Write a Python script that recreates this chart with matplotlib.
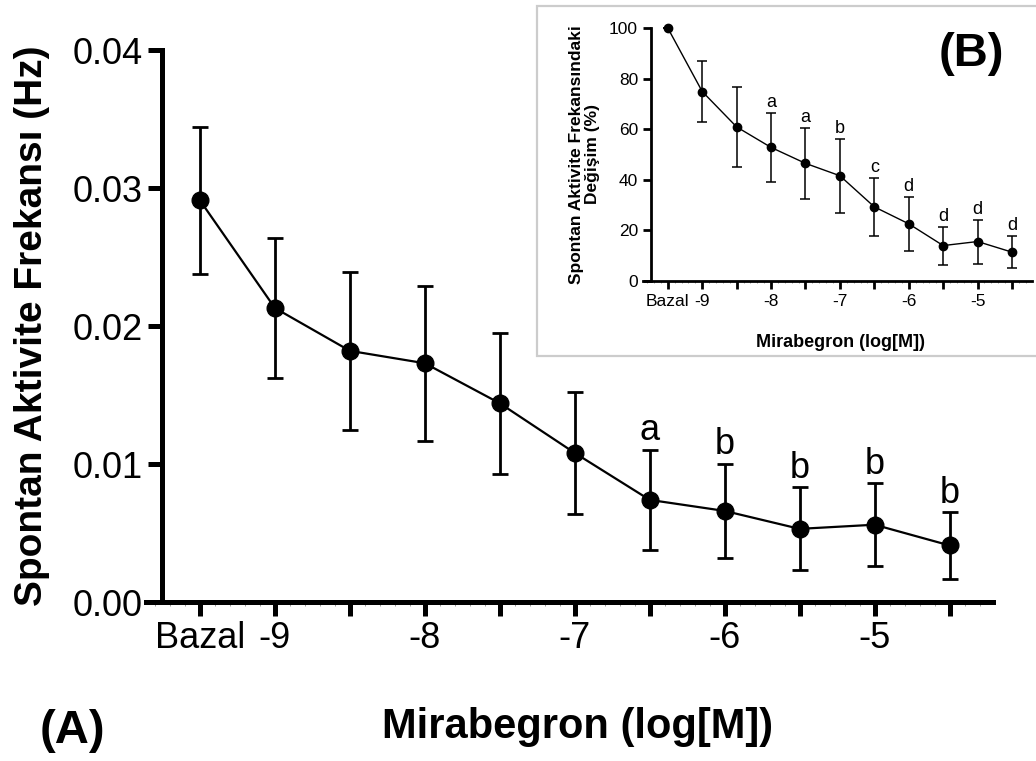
import matplotlib
matplotlib.use("Agg")
import matplotlib.pyplot as plt
from matplotlib.patches import Rectangle
import numpy as np

plt.rcParams['font.family'] = ['Liberation Sans', 'DejaVu Sans']

# ---- data ----
# x positions on log[M] axis; "Bazal" is drawn half a decade left of -9
x_pos = [-9.5, -9.0, -8.5, -8.0, -7.5, -7.0, -6.5, -6.0, -5.5, -5.0, -4.5]
tick_labels = ["Bazal", "-9", "", "-8", "", "-7", "", "-6", "", "-5", ""]

# Panel A: spontaneous activity frequency (Hz)
freq_mean = [0.0291, 0.0213, 0.0182, 0.0173, 0.0144, 0.0108, 0.0074, 0.0066, 0.0053, 0.0056, 0.0041]
freq_err = [0.0053, 0.0051, 0.0057, 0.0056, 0.0051, 0.0044, 0.0036, 0.0034, 0.0030, 0.0030, 0.0024]
freq_sig = ["", "", "", "", "", "", "a", "b", "b", "b", "b"]

# Panel B: change in spontaneous activity frequency (%)
pct_mean = [100.0, 74.9, 60.9, 52.8, 46.5, 41.6, 29.3, 22.6, 14.0, 15.6, 11.4]
pct_err = [0.0, 12.2, 15.8, 13.8, 14.0, 14.6, 11.4, 10.6, 7.5, 8.7, 6.4]
pct_sig = ["", "", "", "a", "a", "b", "c", "d", "d", "d", "d"]

W, H = 1036, 761
fig = plt.figure(figsize=(W / 100, H / 100), dpi=100)


def style_axes(ax, lw, tick_len, minor_len):
    for s in ["top", "right"]:
        ax.spines[s].set_visible(False)
    ax.spines["left"].set_position(("data", -9.75))
    ax.spines["left"].set_linewidth(lw)
    ax.spines["bottom"].set_linewidth(lw)
    ax.spines["left"].set_capstyle("projecting")
    ax.spines["bottom"].set_capstyle("projecting")
    ax.tick_params(axis="both", which="major", direction="out", length=tick_len,
                   width=lw, color="black")
    ax.set_xticks(x_pos)
    ax.set_xticklabels(tick_labels)
    ax.set_xticks(np.arange(-9.8, -4.25, 0.1), minor=True)
    ax.tick_params(axis="x", which="minor", direction="out", length=minor_len,
                   width=0.6, color="#888888")
    ax.set_xlim(-9.86, -4.21)


# ---- Panel A ----
axA = fig.add_axes([146 / W, 1 - 602 / H, (993 - 146) / W, (602 - 50) / H])
axA.errorbar(x_pos, freq_mean, yerr=freq_err, color="black", lw=1.6,
             marker="o", ms=12, elinewidth=2.0, capsize=6, capthick=2.0,
             clip_on=False, zorder=3)
style_axes(axA, 3.6, 10, 3)
axA.set_ylim(0, 0.04)
axA.set_yticks([0.0, 0.01, 0.02, 0.03, 0.04])
axA.set_yticklabels(["0.00", "0.01", "0.02", "0.03", "0.04"])
axA.tick_params(axis="both", which="major", labelsize=26, pad=4)
for x, m, e, s in zip(x_pos, freq_mean, freq_err, freq_sig):
    if s:
        axA.annotate(s, (x, m + e), xytext=(0, 7), textcoords="offset points",
                     ha="center", va="baseline", fontsize=26)
axA.set_ylabel("Spontan Aktivite Frekansı (Hz)", fontsize=28, fontweight="bold")
axA.yaxis.set_label_coords((50 - 146) / 847, 0.5)
fig.text(578 / W, 1 - 727 / H, "Mirabegron (log[M])", fontsize=30,
         fontweight="bold", ha="center", va="center")
fig.text(72 / W, 1 - 731 / H, "(A)", fontsize=34, fontweight="bold",
         ha="center", va="center")

# ---- Panel B (inset) ----
box = Rectangle((537 / W, 1 - 356 / H), (W + 5 - 537) / W, (356 - 6) / H,
                transform=fig.transFigure, facecolor="white",
                edgecolor="#cccccc", lw=1.6, zorder=1)
fig.patches.append(box)

axB = fig.add_axes([643 / W, 1 - 281 / H, (1032 - 643) / W, (281 - 28) / H])
axB.set_zorder(2)
axB.patch.set_alpha(0)
axB.errorbar(x_pos, pct_mean, yerr=pct_err, color="black", lw=1.0,
             marker="o", ms=6, elinewidth=1.1, capsize=3.5, capthick=1.1,
             clip_on=False, zorder=3)
style_axes(axB, 2.0, 6, 1.5)
axB.set_ylim(0, 100)
axB.set_yticks([0, 20, 40, 60, 80, 100])
axB.tick_params(axis="both", which="major", labelsize=12.5, pad=3)
for x, m, e, s in zip(x_pos, pct_mean, pct_err, pct_sig):
    if s:
        axB.annotate(s, (x, m + e), xytext=(0, 4), textcoords="offset points",
                     ha="center", va="baseline", fontsize=13)
axB.set_ylabel("Spontan Aktivite Frekansındaki\nDeğişim (%)", fontsize=12.5,
               fontweight="bold", linespacing=1.1)
axB.yaxis.set_label_coords((600 - 643) / 389, 0.5)
fig.text(841 / W, 1 - 342 / H, "Mirabegron (log[M])", fontsize=13,
         fontweight="bold", ha="center", va="center", zorder=3)
fig.text(971 / W, 1 - 54 / H, "(B)", fontsize=34, fontweight="bold",
         ha="center", va="center", zorder=3)

fig.savefig("out.png", dpi=100)
